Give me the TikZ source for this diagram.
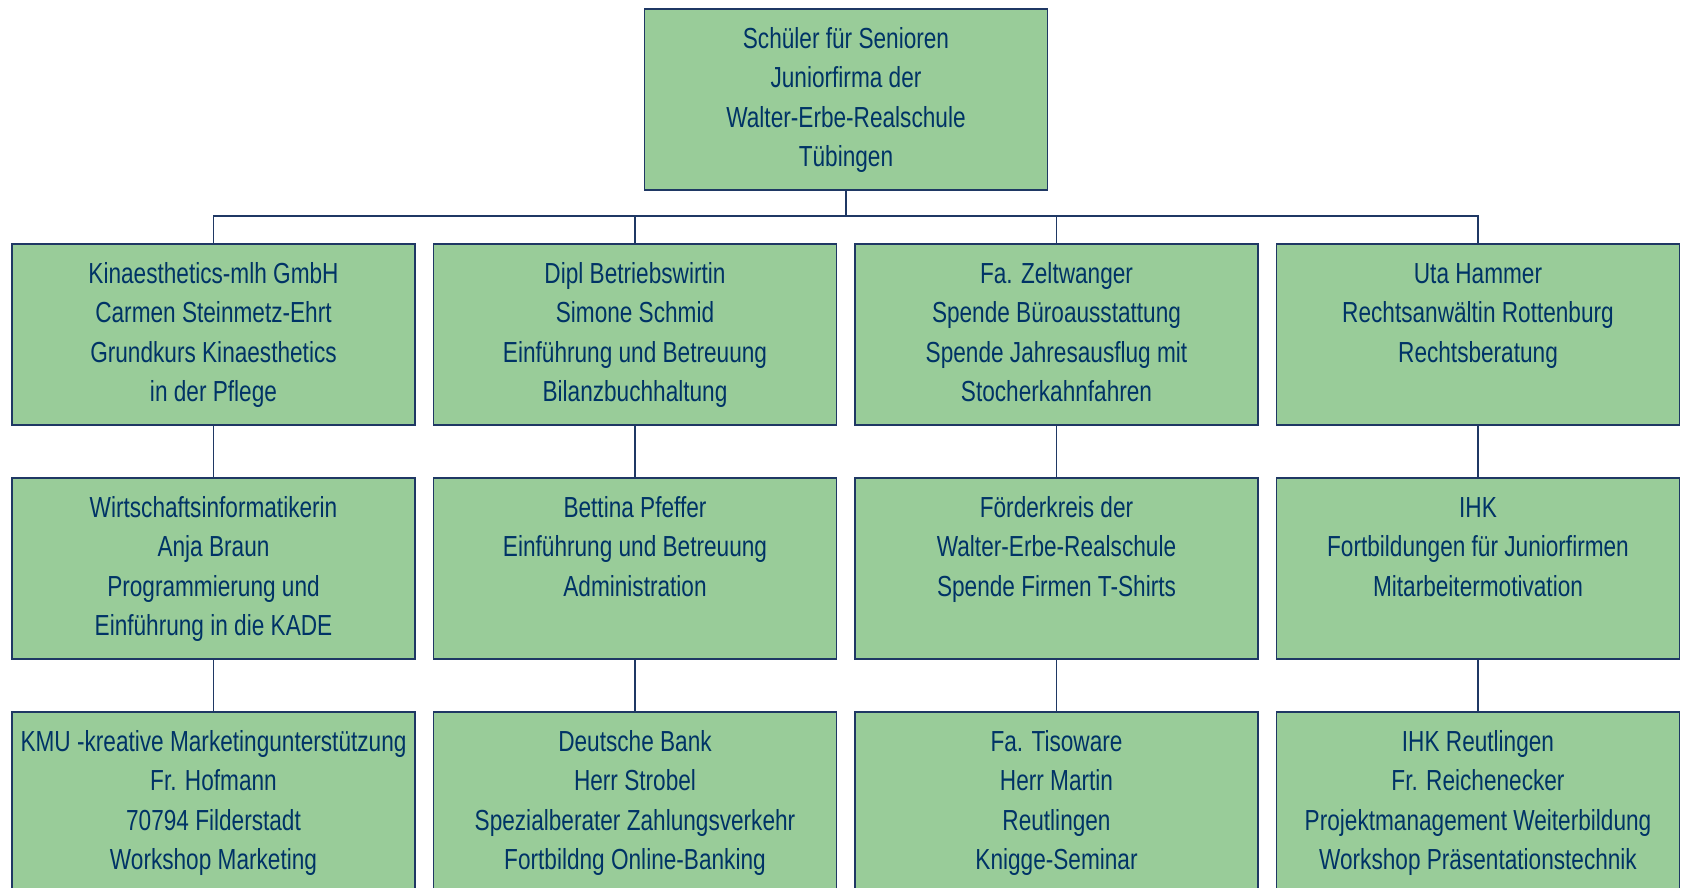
\documentclass[tikz,border=0pt]{standalone}
\usepackage{fontspec}
\setmainfont{Liberation Sans}[FakeStretch=0.78]
\definecolor{gruen}{RGB}{153,204,153}
\definecolor{rand}{RGB}{31,56,100}
\definecolor{schrift}{RGB}{0,51,102}
\newcommand{\feld}[1]{\parbox[c][90.5pt][t]{200pt}{\centering\vspace*{6pt}\strut #1}}

\begin{document}
\begin{tikzpicture}[x=0.5pt,y=-0.5pt,
	einheit/.style={draw=rand, line width=0.8pt, fill=gruen, text=schrift, inner sep=0pt,
		minimum width=201.5pt, anchor=north, font=\fontsize{14.5}{19.7}\selectfont},
	verbindung/.style={draw=rand, line width=0.6pt}]
			\useasboundingbox (0,0) rectangle (1681,888);

			% wurzel
			\node[einheit] (wurzel) at (846,8) {\feld{Schüler für Senioren\\Juniorfirma der\\Walter-Erbe-Realschule\\Tübingen}};

			% reihe 1
			\foreach \i/\txt in {1/{Kinaesthetics-mlh GmbH\\Carmen Steinmetz-Ehrt\\Grundkurs Kinaesthetics\\in der Pflege},
				2/{Dipl Betriebswirtin\\Simone Schmid\\Einführung und Betreuung\\Bilanzbuchhaltung},
				3/{Fa. Zeltwanger\\Spende Büroausstattung\\Spende Jahresausflug mit\\Stocherkahnfahren},
				4/{Uta Hammer\\Rechtsanwältin Rottenburg\\Rechtsberatung}} {
				\node[einheit] (a\i) at ({213.5+(\i-1)*421.5},243) {\feld{\txt}};
			}

			% reihe 2
			\foreach \i/\txt in {1/{Wirtschaftsinformatikerin\\Anja Braun\\Programmierung und\\Einführung in die KADE},
				2/{Bettina Pfeffer\\Einführung und Betreuung\\Administration},
				3/{Förderkreis der\\Walter-Erbe-Realschule\\Spende Firmen T-Shirts},
				4/{IHK\\Fortbildungen für Juniorfirmen\\Mitarbeitermotivation}} {
				\node[einheit] (b\i) at ({213.5+(\i-1)*421.5},477) {\feld{\txt}};
			}

			% reihe 3
			\foreach \i/\txt in {1/{KMU -kreative Marketingunterstützung\\Fr. Hofmann\\70794 Filderstadt\\Workshop Marketing},
				2/{Deutsche Bank\\Herr Strobel\\Spezialberater Zahlungsverkehr\\Fortbildng Online-Banking},
				3/{Fa. Tisoware\\Herr Martin\\Reutlingen\\Knigge-Seminar},
				4/{IHK Reutlingen\\Fr. Reichenecker\\Projektmanagement Weiterbildung\\Workshop Präsentationstechnik}} {
				\node[einheit] (c\i) at ({213.5+(\i-1)*421.5},711) {\feld{\txt}};
			}

			% linien
			\coordinate (bus) at (846,216);
			\draw[verbindung] (wurzel.south) -- (bus);
			\foreach \i in {1,...,4} {
				\draw[verbindung] (a\i.north) |- (bus);
				\draw[verbindung] (a\i.south) -- (b\i.north);
				\draw[verbindung] (b\i.south) -- (c\i.north);
			}
		\end{tikzpicture}
\end{document}
